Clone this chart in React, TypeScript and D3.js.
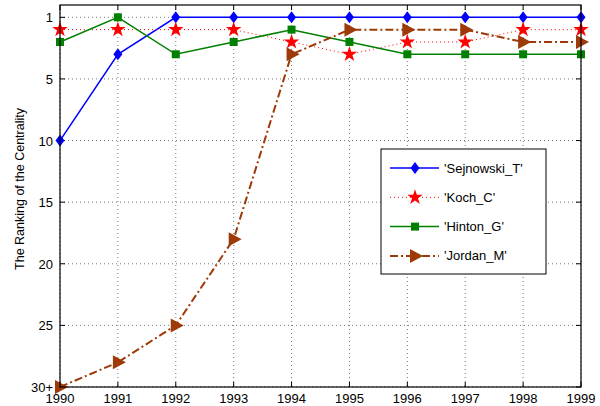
import { useEffect, useRef } from "react";
import * as d3 from "d3";

const years = [1990, 1991, 1992, 1993, 1994, 1995, 1996, 1997, 1998, 1999];
// plotted rank positions (tick at 0 is labelled "1", tick at 30 is "30+")
const sejnowski = [10, 3, 0, 0, 0, 0, 0, 0, 0, 0];
const koch = [1, 1, 1, 1, 2, 3, 2, 2, 1, 1];
const hinton = [2, 0, 3, 2, 1, 2, 3, 3, 3, 3];
const jordan = [30, 28, 25, 18, 3, 1, 1, 1, 2, 2];
const yTicks = [0, 5, 10, 15, 20, 25, 30];
const yTickLabels = ["1", "5", "10", "15", "20", "25", "30+"];

const seriesNames = ["'Sejnowski_T'", "'Koch_C'", "'Hinton_G'", "'Jordan_M'"];

export default function App() {
	const ref = useRef<SVGSVGElement>(null);

	useEffect(() => {
		if (!ref.current) return;
		const svg = d3.select(ref.current);
		svg.selectAll("*").remove();

		const width = 600;
		const height = 406;
		const m = { left: 60, right: 19, top: 5, bottom: 19 };

		const x = d3.scaleLinear().domain([1990, 1999]).range([m.left, width - m.right]);
		const y = d3.scaleLinear().domain([-1, 30]).range([m.top, height - m.bottom]);

		svg.append("rect").attr("width", width).attr("height", height).attr("fill", "#fff");

		// grid
		const grid = svg.append("g").attr("stroke", "#555").attr("stroke-width", 0.8).attr("stroke-dasharray", "1,3");
		grid.selectAll("line.v").data(years).join("line")
			.attr("x1", (d) => x(d)).attr("x2", (d) => x(d))
			.attr("y1", m.top).attr("y2", height - m.bottom);
		grid.selectAll("line.h").data(yTicks).join("line")
			.attr("x1", m.left).attr("x2", width - m.right)
			.attr("y1", (d) => y(d)).attr("y2", (d) => y(d));

		// tick marks (inside, all sides)
		const tk = svg.append("g").attr("stroke", "#000").attr("stroke-width", 1);
		years.forEach((d) => {
			tk.append("line").attr("x1", x(d)).attr("x2", x(d)).attr("y1", height - m.bottom).attr("y2", height - m.bottom - 5);
			tk.append("line").attr("x1", x(d)).attr("x2", x(d)).attr("y1", m.top).attr("y2", m.top + 5);
		});
		yTicks.forEach((d) => {
			tk.append("line").attr("x1", m.left).attr("x2", m.left + 5).attr("y1", y(d)).attr("y2", y(d));
			tk.append("line").attr("x1", width - m.right).attr("x2", width - m.right - 5).attr("y1", y(d)).attr("y2", y(d));
		});

		// series
		const series = [
			{ data: sejnowski, color: "#0000ff", width: 1.5, dash: null as string | null, marker: "diamond" },
			{ data: koch, color: "#ff0000", width: 1, dash: "1,3", marker: "star" },
			{ data: hinton, color: "#008000", width: 1.5, dash: null, marker: "square" },
			{ data: jordan, color: "#9e3a08", width: 2, dash: "8,3,2,3", marker: "triangle" },
		];

		const markerPath = (type: string) => {
			if (type === "diamond") return "M0,-6L4.5,0L0,6L-4.5,0Z";
			if (type === "square") return "M-4,-4H4V4H-4Z";
			if (type === "triangle") return "M-5,-7L8,0L-5,7Z";
			return d3.symbol(d3.symbolStar, 75)() as string;
		};

		const line = d3.line<number>().x((_, i) => x(years[i])).y((d) => y(d));

		series.forEach((s) => {
			svg.append("path").attr("d", line(s.data)).attr("fill", "none")
				.attr("stroke", s.color).attr("stroke-width", s.width)
				.attr("stroke-dasharray", s.dash);
			svg.append("g").selectAll("path").data(s.data).join("path")
				.attr("d", markerPath(s.marker))
				.attr("transform", (d, i) => `translate(${x(years[i])},${y(d)})`)
				.attr("fill", s.color);
		});

		// axes box
		svg.append("rect").attr("x", m.left).attr("y", m.top)
			.attr("width", width - m.left - m.right).attr("height", height - m.top - m.bottom)
			.attr("fill", "none").attr("stroke", "#000").attr("stroke-width", 1.2);

		const font = "Liberation Sans, Arial, sans-serif";
		svg.append("g").selectAll("text").data(years).join("text")
			.attr("x", (d) => x(d)).attr("y", height - 3)
			.attr("text-anchor", "middle").attr("font-family", font).attr("font-size", 13)
			.text((d) => d);
		svg.append("g").selectAll("text").data(yTicks).join("text")
			.attr("x", m.left - 7).attr("y", (d) => y(d) + 5)
			.attr("text-anchor", "end").attr("font-family", font).attr("font-size", 13)
			.text((_, i) => yTickLabels[i]);

		svg.append("text")
			.attr("transform", `translate(24,${(m.top + height - m.bottom) / 2 - 7}) rotate(-90)`)
			.attr("text-anchor", "middle").attr("font-family", font).attr("font-size", 12.5)
			.text("The Ranking of the Centrality");

		// legend
		const lg = svg.append("g");
		lg.append("rect").attr("x", 381).attr("y", 149).attr("width", 165).attr("height", 125)
			.attr("fill", "#fff").attr("stroke", "#000").attr("stroke-width", 1);
		series.forEach((s, i) => {
			const ly = 168 + i * 29.3;
			lg.append("line").attr("x1", 390).attr("x2", 439).attr("y1", ly).attr("y2", ly)
				.attr("stroke", s.color).attr("stroke-width", s.width).attr("stroke-dasharray", s.dash);
			lg.append("path").attr("d", markerPath(s.marker)).attr("transform", `translate(415,${ly})`).attr("fill", s.color);
			lg.append("text").attr("x", 444).attr("y", ly + 4.5).attr("font-family", font).attr("font-size", 13)
				.text(seriesNames[i]);
		});
	}, []);

	return (
		<svg ref={ref} width={600} height={406} style={{ position: "absolute", left: 0, top: 0 }} />
	);
}
